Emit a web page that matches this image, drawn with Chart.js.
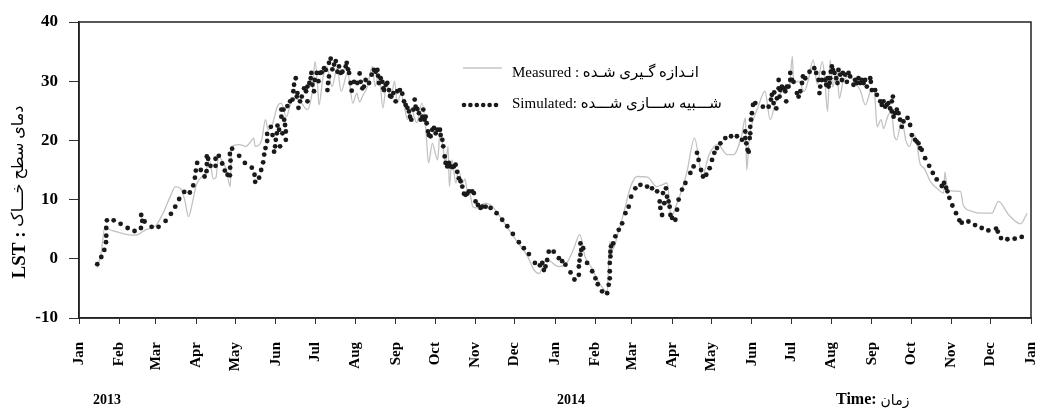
<!DOCTYPE html>
<html>
<head>
<meta charset="utf-8">
<script src="https://cdn.jsdelivr.net/npm/chart.js@4.4.1/dist/chart.umd.min.js"></script>
<style>
body { margin: 0; background: #fff; }
#wrap { width: 1037px; height: 408px; }
</style>
</head>
<body>
<div id="wrap"><canvas id="lst-chart"></canvas></div>
<script>
// Days counted from 1 Jan 2013

// Measured LST (grey line)
const measuredDays = [14,17,20,23,30,37,43,47,51,56,59,64,70,74,78,81,84,87,90,95,97,100,103,105,107,110,113,116,117,123,
  128,131,134,135,140,143,145,148,152,155,159,162,165,170,175,179,181,183,184,187,190,194,198,201,206,210,213,215,218,221,
  225,227,230,233,236,239,242,244,247,249,252,255,257,259,263,266,268,271,273,275,277,279,281,283,284,286,289,291,294,296,
  298,299,302,305,309,312,317,323,333,344,349,353,356,358,362,366,369,374,379,384,388,393,399,403,405,407,409,414,418,423,
  428,436,443,447,451,454,458,462,466,472,478,483,487,490,497,502,508,511,512,514,517,520,526,530,534,538,542,545,547,548,
  552,556,559,563,566,570,572,574,576,578,581,583,586,591,595,599,603,608,610,612,615,617,620,623,625,627,631,634,637,640,
  642,645,648,653,659,663,664,666,676,678,685,691,700,705,713,722,727];
const measuredTemps = [-1.5,1.0,5.5,5.0,4.5,4.1,4.0,4.3,4.9,5.2,5.6,7.5,10.5,12.2,11.8,10.0,7.1,9.5,12.5,14.0,14.5,16.7,13.5,13.7,17.3,16.5,15.0,12.2,19.0,19.3,
  19.0,19.6,20.4,19.0,20.0,23.5,21.8,22.5,25.7,26.3,24.0,26.0,27.1,26.5,25.2,28.5,33.3,29.1,26.0,30.5,32.5,29.1,32.2,28.3,31.4,26.3,28.0,26.5,27.7,29.0,
  32.5,29.1,31.4,25.5,29.7,27.0,30.0,26.3,28.0,26.3,23.5,25.5,24.0,23.0,26.3,21.8,16.2,19.5,18.0,16.7,21.8,19.0,16.2,19.0,12.2,16.7,12.8,15.0,12.8,13.5,
  11.1,11.7,8.8,8.6,9.2,9.4,8.8,7.1,3.8,0.4,-1.9,-2.5,-1.0,-0.2,-0.5,-1.2,-1.3,-0.7,1.5,4.1,0.4,-1.5,-4.1,-5.3,-5.5,2.9,1.5,4.9,8.0,12.2,
  13.9,13.8,12.2,12.5,12.8,7.1,9.0,11.5,14.5,20.4,14.0,17.5,19.0,19.3,17.6,17.6,20.7,23.8,15.0,20.5,23.5,25.2,28.3,23.5,26.3,28.0,28.5,29.5,34.2,29.7,
  30.0,28.3,30.0,33.6,29.5,33.3,30.0,24.9,33.6,29.0,32.2,27.1,30.0,30.8,29.7,28.5,26.0,28.8,28.0,22.3,23.5,22.0,24.0,24.9,21.0,20.1,23.5,20.0,19.0,21.0,
  20.1,16.0,15.3,13.0,11.7,11.1,14.7,11.5,11.4,9.1,8.0,7.7,7.7,9.7,7.4,5.9,7.7];

// Simulated LST (black dots)
const simDays = [14.0,17.1,19.4,20.7,20.9,20.9,21.4,26.6,31.9,37.3,42.6,47.5,47.7,48.5,50.3,55.7,61.0,66.4,70.5,73.8,
  76.8,80.7,85.0,87.6,88.9,89.6,90.6,93.4,96.3,97.8,98.0,98.0,99.0,100.8,104.7,104.7,107.2,109.8,111.8,113.9,
  115.7,115.9,116.2,115.7,117.4,122.8,127.2,132.5,134.6,135.1,138.1,139.7,141.2,142.0,143.0,144.3,144.3,147.1,148.4,149.6,
  150.4,150.9,151.7,152.2,153.4,154.2,155.2,155.2,156.0,156.8,157.3,158.0,158.6,158.6,159.8,161.9,163.7,164.4,164.9,166.2,
  167.0,167.5,168.3,169.5,170.8,172.6,174.1,175.2,175.2,176.7,177.7,178.2,179.0,180.2,180.8,182.3,183.6,184.8,186.1,187.9,
  189.2,190.5,191.0,191.7,191.7,193.0,194.3,195.6,196.9,198.2,199.4,200.7,202.0,204.5,205.3,206.3,207.1,208.3,209.1,210.9,
  213.4,215.2,216.0,217.3,218.5,219.8,222.4,224.4,226.2,227.5,228.8,229.3,230.0,231.3,232.6,233.4,233.9,235.2,236.4,237.7,
  238.5,239.5,241.0,242.8,244.1,246.1,247.9,249.2,250.5,251.8,253.0,253.8,254.8,256.4,257.4,258.1,259.4,260.7,262.0,263.3,
  264.0,265.0,265.8,266.6,267.6,268.3,269.6,270.9,272.2,273.5,274.8,276.8,277.3,278.6,279.3,280.4,281.1,282.4,283.7,284.9,
  286.2,287.5,288.8,290.0,291.3,292.6,293.9,295.2,296.4,297.7,299.0,301.5,302.8,304.1,305.9,307.9,309.2,311.8,315.6,320.2,
  324.5,328.4,332.7,337.3,341.1,345.0,349.6,353.4,355.2,356.5,357.7,359.0,360.2,364.0,368.0,370.5,373.0,376.9,379.9,383.3,
  383.3,383.8,384.5,385.1,384.5,386.6,389.6,393.5,396.0,397.8,401.1,405.0,406.2,407.0,407.0,407.0,407.5,407.5,408.0,409.6,
  411.3,413.9,416.5,419.0,421.5,423.4,426.6,430.5,435.6,439.4,443.3,445.3,445.8,447.1,447.8,448.8,450.1,450.9,452.1,452.9,
  453.5,454.8,457.3,458.6,459.8,462.4,465.0,468.8,471.3,473.9,475.1,477.0,478.5,481.0,483.6,485.4,487.2,489.2,491.8,495.6,
  500.0,504.5,508.4,510.9,510.9,511.7,512.7,513.5,514.3,514.7,514.7,515.3,516.0,516.8,518.6,524.4,528.8,530.6,531.3,532.6,
  533.1,534.7,535.2,536.5,536.5,537.2,537.7,539.0,540.3,541.6,542.3,542.8,544.1,545.4,545.4,546.7,547.9,550.5,551.8,553.1,
  554.4,555.1,556.9,560.2,563.8,565.3,567.1,567.8,568.4,569.6,570.9,572.2,573.0,574.0,574.8,575.5,576.0,576.5,577.3,578.1,
  579.3,580.6,581.6,582.4,583.7,585.0,585.7,587.5,588.8,590.1,591.3,593.9,595.2,596.5,597.7,599.0,600.3,601.6,602.8,604.1,
  606.7,607.2,608.0,610.5,611.8,614.4,615.6,616.9,618.2,619.4,620.7,622.0,623.3,623.3,624.1,624.6,625.8,627.1,628.4,629.6,
  630.9,632.2,635.3,637.3,638.6,641.1,642.4,643.7,645.0,646.2,648.8,651.9,654.7,657.7,661.6,663.3,664.9,665.9,667.4,669.7,
  672.5,675.1,676.9,682.0,687.1,692.2,697.3,703.2,704.5,707.0,711.9,717.5,722.9];
const simTemps = [-0.9,0.3,1.5,2.8,3.9,5.2,6.5,6.5,5.9,5.2,4.7,5.2,7.4,6.4,6.3,5.4,5.4,6.4,7.6,8.8,
  10.1,11.3,11.2,12.4,13.7,14.9,16.2,15.0,13.9,14.8,16.0,17.3,16.9,15.7,15.7,16.9,17.4,16.1,14.9,14.2,
  14.1,15.4,16.6,17.7,18.6,17.4,16.2,15.4,14.2,13.0,13.7,15.0,16.3,17.6,18.7,19.9,21.1,22.3,20.9,18.1,
  19.0,20.1,21.2,22.5,21.8,19.0,24.0,25.2,21.2,25.2,23.5,22.6,21.5,20.1,25.8,26.6,26.9,28.3,29.4,30.5,
  27.4,28.0,25.5,26.6,27.4,28.8,28.3,26.6,29.1,29.7,30.5,31.4,29.4,28.3,30.2,31.4,30.0,31.4,31.5,32.2,
  31.9,28.5,29.7,30.8,33.1,33.8,32.0,32.8,33.4,31.6,32.5,31.4,31.6,32.5,33.1,32.0,31.4,29.7,28.4,29.9,
  29.7,31.3,29.9,28.8,29.1,30.2,29.7,31.1,31.9,31.6,31.9,30.9,29.7,30.5,29.9,28.8,28.5,29.4,29.7,28.5,
  27.5,27.4,28.0,26.6,28.3,28.5,27.9,26.6,26.0,25.5,24.9,24.0,23.5,25.2,26.9,25.7,25.3,24.6,23.5,24.0,
  25.2,23.5,24.0,22.9,21.5,20.9,20.7,21.8,22.1,21.2,21.8,21.8,20.9,20.1,19.0,17.3,16.2,15.6,16.2,15.6,
  15.5,15.6,15.9,14.7,13.6,13.1,12.2,11.0,10.8,11.0,11.4,11.4,11.1,9.7,9.1,8.6,8.8,8.8,8.6,7.7,
  6.6,5.5,4.2,2.8,1.8,0.8,-0.7,-1.1,-0.7,-1.9,-1.3,-0.2,1.2,1.2,0.1,-0.4,-1.0,-2.3,-3.5,-2.7,
  -1.3,-0.3,0.7,1.5,2.6,1.8,-0.7,-2.1,-3.3,-4.3,-5.5,-5.8,-4.4,-3.3,-2.1,-0.7,0.4,1.2,2.1,2.6,
  3.8,4.9,6.0,7.7,8.8,10.5,11.9,12.5,12.2,11.9,11.4,9.7,8.6,7.4,11.1,9.4,11.9,10.5,9.7,8.8,
  7.4,6.9,6.6,8.3,10.0,11.7,12.8,14.5,15.6,17.9,16.7,15.0,13.9,14.2,15.3,16.7,17.9,18.7,19.5,20.4,
  20.7,20.7,20.1,20.4,21.5,19.5,18.4,18.1,20.4,21.2,22.3,23.5,24.6,26.0,26.3,25.7,25.7,26.9,27.7,26.3,
  28.1,25.4,27.1,30.2,28.8,27.4,28.5,29.1,28.8,28.3,26.6,29.1,29.1,31.4,30.2,30.2,29.9,28.0,27.4,28.3,
  29.7,30.8,30.5,31.6,32.2,31.4,30.2,28.0,29.1,30.2,31.4,30.2,29.4,30.5,29.1,29.7,30.5,31.6,32.5,31.9,
  31.4,30.5,29.7,31.9,31.1,30.2,31.4,31.1,29.9,31.4,30.8,29.4,30.2,29.7,30.5,29.7,30.2,29.7,30.2,29.1,
  30.5,29.9,28.5,28.5,27.7,26.6,26.0,26.6,25.7,26.0,26.3,25.4,26.6,24.9,27.4,24.0,24.6,25.2,24.6,23.5,
  22.3,23.2,23.8,22.6,20.9,20.1,19.8,19.5,18.7,18.4,17.0,15.7,14.5,13.4,12.3,12.8,12.0,11.4,10.3,9.0,
  7.7,6.5,6.1,6.3,5.7,5.2,4.8,5.1,4.6,3.5,3.3,3.4,3.7];

// x axis ticks: first day of each month, Jan 2013 .. Jan 2015
const tickDays = [0,31,59,90,120,151,181,212,243,273,304,334,365,396,424,455,485,516,546,577,608,638,669,699,730];
const tickMonths = ['Jan','Feb','Mar','Apr','May','Jun','Jul','Aug','Sep','Oct','Nov','Dec',
  'Jan','Feb','Mar','Apr','May','Jun','Jul','Aug','Sep','Oct','Nov','Dec','Jan'];

const legendLabels = ['Measured : انـدازه گـیری شـده', 'Simulated: شـــبیه ســـازی شـــده'];
const yTitle = ['LST : ', 'دمای سطح خـــاک'];
const yearLabels = ['2013', '2014'];

const serif = '"Liberation Serif", "Times New Roman", "DejaVu Sans", serif';
Chart.defaults.font.family = serif;
Chart.defaults.color = '#000';

// Extra drawing: frame, legend, titles, years
const extras = {
    id: 'extras',
    afterDraw(chart) {
        const ctx = chart.ctx;
        const a = chart.chartArea;
        const xs = chart.scales.x;
        ctx.save();

        ctx.strokeStyle = '#222';
        ctx.lineWidth = 1.5;
        ctx.strokeRect(a.left, a.top, a.right - a.left, a.bottom - a.top);

        // legend
        ctx.strokeStyle = '#c4c4c4';
        ctx.lineWidth = 1.3;
        ctx.beginPath();
        ctx.moveTo(463, 68);
        ctx.lineTo(502, 68);
        ctx.stroke();
        ctx.fillStyle = '#1a1a1a';
        for (let i = 0; i < 6; i++) {
            ctx.beginPath();
            ctx.arc(464 + i * 6.4, 105, 2.3, 0, Math.PI * 2);
            ctx.fill();
        }
        ctx.fillStyle = '#000';
        ctx.textBaseline = 'middle';
        ctx.textAlign = 'left';
        ctx.font = '15px ' + serif;
        ctx.fillText(legendLabels[0], 512, 73);
        ctx.fillText(legendLabels[1], 512, 104);

        // y title, rotated
        ctx.save();
        ctx.translate(20, 192);
        ctx.rotate(-Math.PI / 2);
        ctx.font = 'bold 19px ' + serif;
        const w1 = ctx.measureText(yTitle[0]).width;
        ctx.font = '16px ' + serif;
        const w2 = ctx.measureText(yTitle[1]).width;
        let start = -(w1 + w2) / 2;
        ctx.font = 'bold 19px ' + serif;
        ctx.fillText(yTitle[0], start, 0);
        ctx.font = '16px ' + serif;
        ctx.fillText(yTitle[1], start + w1, -1);
        ctx.restore();

        // years and x title
        ctx.font = 'bold 14px ' + serif;
        ctx.fillText(yearLabels[0], xs.getPixelForValue(0) + 14, 400);
        ctx.fillText(yearLabels[1], xs.getPixelForValue(365) + 2, 400);
        ctx.font = 'bold 16px ' + serif;
        ctx.fillText('Time:', 836, 400);
        const tw = ctx.measureText('Time: ').width;
        ctx.font = '14px ' + serif;
        ctx.fillText('زمان', 836 + tw, 401);

        ctx.restore();
    }
};

const ctx = document.getElementById('lst-chart').getContext('2d');

let lstChart = new Chart(ctx, {
    type: 'scatter',
    data: {
        datasets: [{
            label: 'Measured',
            data: measuredDays.map((d, i) => ({ x: d, y: measuredTemps[i] })),
            showLine: true,
            borderColor: '#c2c2c2',
            borderWidth: 1.3,
            pointRadius: 0,
            cubicInterpolationMode: 'monotone',
            order: 2
        }, {
            label: 'Simulated',
            data: simDays.map((d, i) => ({ x: d, y: simTemps[i] })),
            showLine: false,
            pointRadius: 2.4,
            pointBackgroundColor: '#1a1a1a',
            pointBorderWidth: 0,
            order: 1
        }]
    },
    options: {
        responsive: true,
        maintainAspectRatio: false,
        animation: false,
        events: [],
        layout: {
            padding: { top: 22, right: 6, left: 0, bottom: 0 }
        },
        scales: {
            x: {
                type: 'linear',
                min: 0,
                max: 730,
                afterBuildTicks: (scale) => {
                    scale.ticks = tickDays.map(v => ({ value: v }));
                },
                afterFit: (scale) => {
                    scale.height = 90;
                    scale.paddingLeft = 0;
                    scale.paddingRight = 0;
                },
                ticks: {
                    autoSkip: false,
                    minRotation: 90,
                    maxRotation: 90,
                    padding: 18,
                    font: { size: 15, weight: 'bold' },
                    callback: (value) => tickMonths[tickDays.indexOf(value)]
                },
                grid: {
                    drawOnChartArea: false,
                    tickLength: 6,
                    color: '#333'
                },
                border: { color: '#222', width: 1.5 }
            },
            y: {
                min: -10,
                max: 40,
                afterFit: (scale) => {
                    scale.width = 79;
                    scale.paddingTop = 0;
                    scale.paddingBottom = 0;
                },
                ticks: {
                    stepSize: 10,
                    padding: 11,
                    font: { size: 17, weight: 'bold' }
                },
                grid: {
                    drawOnChartArea: false,
                    tickLength: 10,
                    color: '#333'
                },
                border: { color: '#222', width: 1.5 }
            }
        },
        plugins: {
            legend: { display: false },
            tooltip: { enabled: false }
        }
    },
    plugins: [extras]
});
</script>
</body>
</html>
